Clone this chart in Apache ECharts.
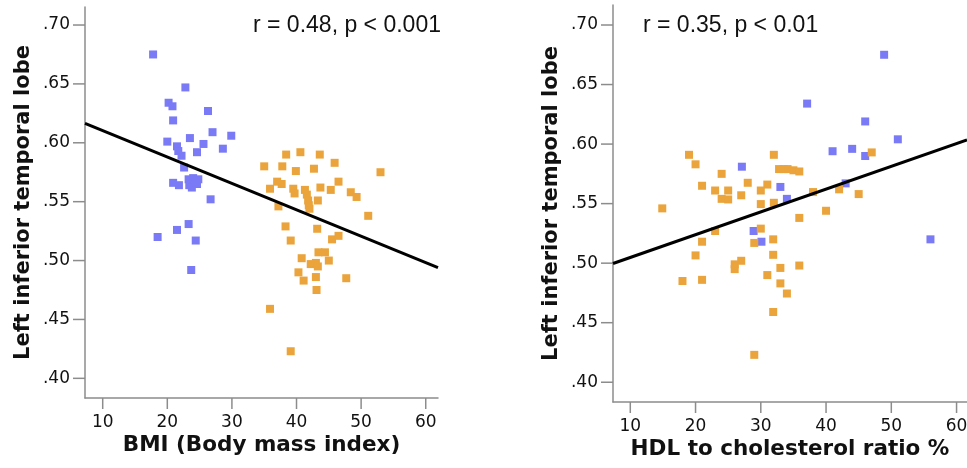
<!DOCTYPE html>
<html>
<head>
<meta charset="utf-8">
<script src="https://cdn.jsdelivr.net/npm/echarts@6/dist/echarts.min.js"></script>
<style>html,body{margin:0;padding:0;background:#fff}#c{width:967px;height:468px}</style>
</head>
<body>
<div id="c"></div>
<script>
// ---- data ----
const xTicks = [10, 20, 30, 40, 50, 60];
const yTicks = [0.40, 0.45, 0.50, 0.55, 0.60, 0.65, 0.70];
const yTickLabels = ['.40', '.45', '.50', '.55', '.60', '.65', '.70'];
const yName = 'Left inferior temporal lobe';
const xNameLeft = 'BMI (Body mass index)';
const xNameRight = 'HDL to cholesterol ratio %';
const statLeft = 'r = 0.48, p < 0.001';
const statRight = 'r = 0.35, p < 0.01';

const bmiBlue = [[17.8,0.675],[22.8,0.647],[20.2,0.634],[20.8,0.631],[20.9,0.619],[26.3,0.627],[27.0,0.609],[29.9,0.606],[20.0,0.601],[23.5,0.604],[21.5,0.597],[21.7,0.593],[25.6,0.599],[24.6,0.592],[28.6,0.595],[22.2,0.589],[22.6,0.579],[20.9,0.566],[21.8,0.564],[23.3,0.569],[24.0,0.570],[24.8,0.569],[23.4,0.564],[23.8,0.562],[24.6,0.565],[26.7,0.552],[18.5,0.520],[21.5,0.526],[23.3,0.531],[24.4,0.517],[23.7,0.492]];
const bmiOrange = [[38.4,0.590],[40.6,0.592],[43.6,0.590],[35.0,0.580],[37.8,0.580],[39.9,0.576],[42.7,0.578],[45.9,0.583],[53.0,0.575],[35.9,0.561],[37.0,0.567],[37.7,0.565],[39.5,0.561],[39.7,0.557],[41.3,0.560],[41.6,0.556],[41.8,0.551],[41.9,0.547],[42.0,0.544],[43.3,0.551],[43.7,0.562],[45.3,0.560],[46.5,0.567],[48.4,0.558],[49.3,0.554],[37.2,0.546],[51.1,0.538],[38.3,0.529],[43.2,0.527],[39.1,0.517],[45.5,0.518],[46.5,0.521],[43.4,0.507],[44.4,0.507],[40.8,0.502],[45.0,0.500],[42.2,0.497],[43.0,0.498],[43.3,0.495],[40.3,0.490],[41.1,0.483],[43.0,0.486],[47.7,0.485],[43.1,0.475],[35.9,0.459],[39.1,0.423]];
const bmiFit = [[7.26,0.6165],[61.9,0.494]];

const hdlBlue = [[48.9,0.675],[37.1,0.634],[46.0,0.619],[51.0,0.604],[41.0,0.594],[44.0,0.596],[46.0,0.590],[27.1,0.581],[33.0,0.564],[43.0,0.567],[34.0,0.554],[28.9,0.527],[30.1,0.518],[56.0,0.520]];
const hdlOrange = [[19.0,0.591],[20.0,0.583],[32.0,0.591],[24.0,0.575],[32.8,0.579],[33.5,0.579],[34.1,0.579],[35.0,0.578],[35.9,0.577],[47.0,0.593],[21.0,0.565],[23.0,0.561],[25.0,0.561],[28.0,0.5675],[31.0,0.566],[30.0,0.561],[27.0,0.557],[42.0,0.562],[45.0,0.558],[14.9,0.546],[24.0,0.554],[25.0,0.5535],[30.0,0.5496],[32.0,0.5507],[35.9,0.538],[38.0,0.5597],[40.0,0.544],[23.0,0.527],[30.0,0.529],[29.0,0.517],[31.9,0.520],[21.0,0.518],[20.0,0.5065],[31.9,0.507],[26.0,0.499],[26.0,0.495],[27.0,0.502],[33.0,0.496],[35.9,0.498],[31.0,0.490],[18.0,0.485],[21.0,0.486],[33.0,0.483],[34.0,0.4745],[31.9,0.459],[29.0,0.423]];
const hdlFit = [[7.35,0.4997],[61.6,0.6034]];

// ---- layout / style ----
const BLUE = '#7a7af6';
const ORANGE = '#eaa43b';
const AXIS = '#8c8c8c';
const FONT = 'DejaVu Sans';
const TICK_X = 11, TICK_Y = 12;
const panels = [
  {left: 85, top: 7, width: 353, height: 391, xMin: 7.26, xMax: 61.9, yMin: 0.3833, yMax: 0.7153, xName: xNameLeft},
  {left: 613, top: 5, width: 354, height: 397, xMin: 7.35, xMax: 61.6, yMin: 0.3834, yMax: 0.7168, xName: xNameRight}
];

const chart = echarts.init(document.getElementById('c'), null, {renderer: 'canvas'});

const grids = [], xAxes = [], yAxes = [], tickSeries = [];
const hidden = gi => ({gridIndex: gi, type: 'value', min: 0, max: 1, show: false});
const G = (o) => Object.assign({outerBoundsMode: 'none', containLabel: false}, o);

// main grids: axis lines, names, data
panels.forEach(function (p, i) {
  grids.push(G({left: p.left, top: p.top, width: p.width, height: p.height}));
  xAxes.push({
    gridIndex: i, type: 'value', min: p.xMin, max: p.xMax,
    axisLine: {show: true, onZero: false, lineStyle: {color: AXIS, width: 1.5}},
    axisTick: {show: false}, axisLabel: {show: false}, splitLine: {show: false},
    name: p.xName, nameLocation: 'middle', nameGap: 36,
    nameTextStyle: {fontWeight: 'bold', fontSize: 21.5, fontFamily: FONT, color: '#111'}
  });
  yAxes.push({
    gridIndex: i, type: 'value', min: p.yMin, max: p.yMax,
    axisLine: {show: true, onZero: false, lineStyle: {color: AXIS, width: 1.5}},
    axisTick: {show: false}, axisLabel: {show: false}, splitLine: {show: false},
    name: yName, nameLocation: 'middle', nameGap: 51,
    nameTextStyle: {fontWeight: 'bold', fontSize: 21, fontFamily: FONT, color: '#111'}
  });
});

function tickRender(horizontal) {
  return function (params, api) {
    const v = api.value(0);
    const a = horizontal ? api.coord([0, v]) : api.coord([v, 0]);
    const b = horizontal ? api.coord([1, v]) : api.coord([v, 1]);
    return {type: 'line', shape: {x1: a[0], y1: a[1], x2: b[0], y2: b[1]},
      style: {stroke: AXIS, lineWidth: 1.5}};
  };
}

// tick bands: thin grids just outside each axis, carrying the tick labels and tick marks
panels.forEach(function (p, i) {
  const px = v => p.left + (v - p.xMin) / (p.xMax - p.xMin) * p.width;
  const py = v => p.top + (p.yMax - v) / (p.yMax - p.yMin) * p.height;
  const x0 = px(xTicks[0]), x1 = px(xTicks[xTicks.length - 1]);
  const y1 = py(yTicks[yTicks.length - 1]), y0 = py(yTicks[0]);
  // x band
  let gi = grids.length;
  grids.push(G({left: x0, top: p.top + p.height, width: x1 - x0, height: TICK_X}));
  xAxes.push({
    gridIndex: gi, type: 'value', min: xTicks[0], max: xTicks[xTicks.length - 1], interval: xTicks[1] - xTicks[0],
    axisLine: {show: false}, axisTick: {show: false}, splitLine: {show: false},
    axisLabel: {margin: 5, fontSize: 17, color: '#111', fontFamily: FONT, showMinLabel: true, showMaxLabel: true}
  });
  yAxes.push(hidden(gi));
  tickSeries.push({type: 'custom', xAxisIndex: gi, yAxisIndex: gi, data: xTicks.map(v => [v]),
    encode: {x: 0}, renderItem: tickRender(false), silent: true, animation: false, clip: false});
  // y band
  gi = grids.length;
  grids.push(G({left: p.left - TICK_Y, top: y1, width: TICK_Y, height: y0 - y1}));
  xAxes.push(hidden(gi));
  yAxes.push({
    gridIndex: gi, type: 'value', min: yTicks[0], max: yTicks[yTicks.length - 1], interval: 0.05,
    axisLine: {show: false}, axisTick: {show: false}, splitLine: {show: false},
    axisLabel: {margin: 3, fontSize: 17, color: '#111', fontFamily: FONT, showMinLabel: true, showMaxLabel: true,
      formatter: function (v) {
        const k = yTicks.findIndex(t => Math.abs(t - v) < 1e-6);
        return k >= 0 ? yTickLabels[k] : '';
      }}
  });
  tickSeries.push({type: 'custom', xAxisIndex: gi, yAxisIndex: gi, data: yTicks.map(v => [v]),
    encode: {y: 0}, renderItem: tickRender(true), silent: true, animation: false, clip: false});
});

function pts(gi, data, color) {
  return {type: 'scatter', xAxisIndex: gi, yAxisIndex: gi, data: data, symbol: 'rect', symbolSize: 8,
    itemStyle: {color: color, opacity: 1}, silent: true, animation: false};
}
function fit(gi, data) {
  return {type: 'line', xAxisIndex: gi, yAxisIndex: gi, data: data, showSymbol: false, symbol: 'none',
    lineStyle: {color: '#000', width: 3}, silent: true, animation: false, z: 5};
}

chart.setOption({
  animation: false,
  backgroundColor: '#fff',
  grid: grids,
  xAxis: xAxes,
  yAxis: yAxes,
  series: [
    pts(0, bmiBlue, BLUE), pts(0, bmiOrange, ORANGE), fit(0, bmiFit),
    pts(1, hdlBlue, BLUE), pts(1, hdlOrange, ORANGE), fit(1, hdlFit)
  ].concat(tickSeries),
  graphic: [
    {type: 'text', x: 253, y: 14, style: {text: statLeft, font: '23px "Liberation Sans"', fill: '#111', textVerticalAlign: 'top'}},
    {type: 'text', x: 643, y: 14, style: {text: statRight, font: '23px "Liberation Sans"', fill: '#111', textVerticalAlign: 'top'}}
  ]
});
</script>
</body>
</html>
